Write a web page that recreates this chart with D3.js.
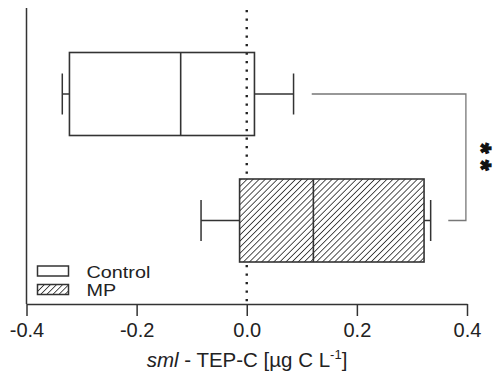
<!DOCTYPE html>
<html>
<head>
<meta charset="utf-8">
<script src="https://cdn.jsdelivr.net/npm/d3@7"></script>
<style>
  body { margin: 0; background: #fff; }
  svg { font-family: "Liberation Sans", Arial, sans-serif; }
</style>
</head>
<body>
<div id="chart"></div>
<script>
const groups = ['Control', 'MP'];
const whiskerLow = [-0.335, -0.083];
const boxLow = [-0.322, -0.013];
const medians = [-0.120, 0.121];
const boxHigh = [0.014, 0.322];
const whiskerHigh = [0.085, 0.334];
const xTicks = [-0.4, -0.2, 0.0, 0.2, 0.4];

const W = 495, H = 383;
const svg = d3.select('#chart').append('svg').attr('width', W).attr('height', H);

const defs = svg.append('defs');
const pat = defs.append('pattern')
  .attr('id', 'hatch').attr('patternUnits', 'userSpaceOnUse')
  .attr('width', 4.3).attr('height', 4.3)
  .attr('patternTransform', 'rotate(45)');
pat.append('rect').attr('width', 4.3).attr('height', 4.3).attr('fill', '#fff');
pat.append('line').attr('x1', 0).attr('y1', 0).attr('x2', 0).attr('y2', 4.3)
  .attr('stroke', '#333').attr('stroke-width', 1.7);

const x = d3.scaleLinear().domain([-0.4, 0.4]).range([26.5, 467]);
// box centres tuned to the picture
const y = d3.scalePoint().domain(groups).range([94, 220.5]);
const boxH = 83, capH = 41;

const dark = '#333';

// dotted zero line
svg.append('line')
  .attr('x1', x(0)).attr('x2', x(0)).attr('y1', 10).attr('y2', 304)
  .attr('stroke', '#222').attr('stroke-width', 2.4)
  .attr('stroke-dasharray', '2.2,6.3');

const g = svg.append('g');
groups.forEach((name, i) => {
  const cy = y(name);
  const fill = i === 1 ? 'url(#hatch)' : 'none';
  // whiskers
  g.append('line').attr('x1', x(whiskerLow[i])).attr('x2', x(boxLow[i]))
    .attr('y1', cy).attr('y2', cy).attr('stroke', dark).attr('stroke-width', 1.5);
  g.append('line').attr('x1', x(boxHigh[i])).attr('x2', x(whiskerHigh[i]))
    .attr('y1', cy).attr('y2', cy).attr('stroke', dark).attr('stroke-width', 1.5);
  [whiskerLow[i], whiskerHigh[i]].forEach(v => {
    g.append('line').attr('x1', x(v)).attr('x2', x(v))
      .attr('y1', cy - capH / 2).attr('y2', cy + capH / 2)
      .attr('stroke', dark).attr('stroke-width', 1.5);
  });
  g.append('rect')
    .attr('x', x(boxLow[i])).attr('width', x(boxHigh[i]) - x(boxLow[i]))
    .attr('y', cy - boxH / 2).attr('height', boxH)
    .attr('fill', fill).attr('stroke', dark).attr('stroke-width', 1.6);
  g.append('line').attr('x1', x(medians[i])).attr('x2', x(medians[i]))
    .attr('y1', cy - boxH / 2).attr('y2', cy + boxH / 2)
    .attr('stroke', dark).attr('stroke-width', 1.6);
});

// significance bracket
svg.append('path')
  .attr('d', `M${x(0.118)},${y('Control')} H${x(0.398)} V${y('MP')} H${x(0.366)}`)
  .attr('fill', 'none').attr('stroke', '#777').attr('stroke-width', 1.3);
// "**" set vertically
svg.append('text')
  .attr('transform', 'translate(471.5,160) rotate(90)')
  .attr('text-anchor', 'middle').attr('font-size', 27).attr('font-weight', 'bold')
  .attr('letter-spacing', 6.5).attr('fill', '#111')
  .attr('stroke', '#111').attr('stroke-width', 1.1).text('**');

// axes
svg.append('line').attr('x1', 26.5).attr('x2', 26.5).attr('y1', 8).attr('y2', 304)
  .attr('stroke', dark).attr('stroke-width', 1.5);
const xAxis = svg.append('g').attr('transform', 'translate(0,304)')
  .call(d3.axisBottom(x).tickValues(xTicks).tickFormat(d => d.toFixed(1))
    .tickSize(12).tickPadding(7).tickSizeOuter(0));
xAxis.select('.domain').attr('stroke', dark).attr('stroke-width', 1.5);
xAxis.selectAll('.tick line').attr('stroke', dark).attr('stroke-width', 1.5);
xAxis.selectAll('.tick text').attr('font-size', 20).attr('fill', '#222')
  .attr('font-family', '"Liberation Sans", Arial, sans-serif');

const title = svg.append('text').attr('x', 247).attr('y', 367)
  .attr('text-anchor', 'middle').attr('font-size', 20.5).attr('fill', '#222');
title.append('tspan').attr('font-style', 'italic').text('sml');
title.append('tspan').text(' - TEP-C [µg C L');
title.append('tspan').attr('font-size', 13).attr('dy', -8).text('-1');
title.append('tspan').attr('dy', 8).text(']');

// legend
const leg = svg.append('g');
const legY = [266, 284.5];
groups.forEach((name, i) => {
  leg.append('rect').attr('x', 37.5).attr('y', legY[i]).attr('width', 31).attr('height', 10)
    .attr('fill', i === 1 ? 'url(#hatch)' : '#fff').attr('stroke', dark).attr('stroke-width', 1.5);
  leg.append('text')
    .attr('transform', `translate(86.5,${legY[i] + 11.5}) scale(1.2,1)`)
    .attr('font-size', 16.5).attr('fill', '#222').text(name);
});
</script>
</body>
</html>
